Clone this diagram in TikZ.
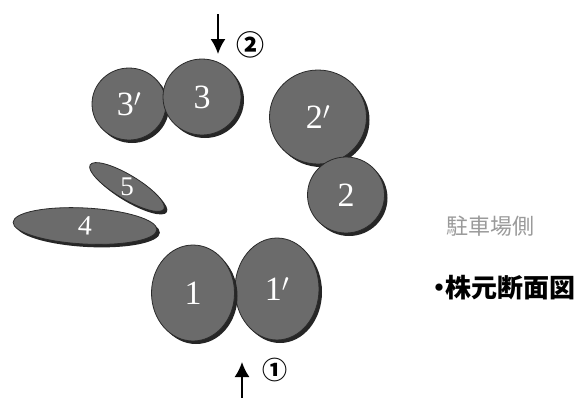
\documentclass[tikz,border=0pt]{standalone}
\usepackage{fontspec}
\newfontfamily\cjk{Noto Sans CJK JP}
\setmainfont{Liberation Serif}
\usetikzlibrary{arrows.meta,shapes.geometric,shadows}
\definecolor{stem}{HTML}{6B6B6B}
\definecolor{edge}{HTML}{2A2A2A}
\definecolor{note}{HTML}{9A9A9A}

\begin{document}
\begin{tikzpicture}[>=Latex,x=1pt,y=-1pt,
    stump/.style={ellipse,fill=stem,draw=edge,line width=0.8pt,inner sep=0pt,
      text=white,font=\fontsize{34}{34}\selectfont,
      drop shadow={shadow xshift=3pt,shadow yshift=-3pt,fill=black!85,opacity=1}},
    mark arrow/.style={->,line width=1.8pt,>={Latex[length=15pt,width=15pt]}},
    mark num/.style={font=\cjk\bfseries\fontsize{28}{28}\selectfont,inner sep=0pt}]
  \useasboundingbox (0,0) rectangle (578,397);
  % stumps
  \node[stump,minimum width=74pt,minimum height=72pt] (t3p) at (129,104) {3$'$};
  \node[stump,minimum width=78pt,minimum height=76pt] (t3) at (202,97) {3};
  \node[stump,minimum width=97pt,minimum height=94pt] (t2p) at (318,117) {2$'$};
  \node[stump,minimum width=77pt,minimum height=76pt] (t2) at (346,195) {2};
  \node[stump,minimum width=86pt,minimum height=24pt,rotate=-31] (t5) at (127,187) {};
  \node[text=white,font=\fontsize{27}{27}\selectfont,inner sep=0pt] (t5l) at (t5.center) {5};
  \node[stump,minimum width=144pt,minimum height=36pt,rotate=-3,font=\fontsize{28}{28}\selectfont] (t4) at (85,226) {4};
  \node[stump,minimum width=84pt,minimum height=102pt] (t1p) at (277,289) {1$'$};
  \node[stump,minimum width=83pt,minimum height=96pt] (t1) at (193,293) {1};
  % view arrows
  \coordinate (v2s) at (218,14);
  \coordinate (v2e) at (218,54);
  \draw[mark arrow] (v2s) -- (v2e);
  \node[mark num] (v2) at (250,45) {②};
  \coordinate (v1s) at (242,398);
  \coordinate (v1e) at (242,362);
  \draw[mark arrow] (v1s) -- (v1e);
  \node[mark num,font=\cjk\bfseries\fontsize{25}{25}\selectfont] (v1) at (275,370) {①};
  % notes
  \node[font=\cjk\fontsize{22}{22}\selectfont,text=note] (side) at (490,226) {駐車場側};
  \node[font=\cjk\bfseries\fontsize{26}{26}\selectfont,anchor=east,inner sep=0pt] (title) at (576,288) {・\kern-7pt 株元断面図};
\end{tikzpicture}
\end{document}
